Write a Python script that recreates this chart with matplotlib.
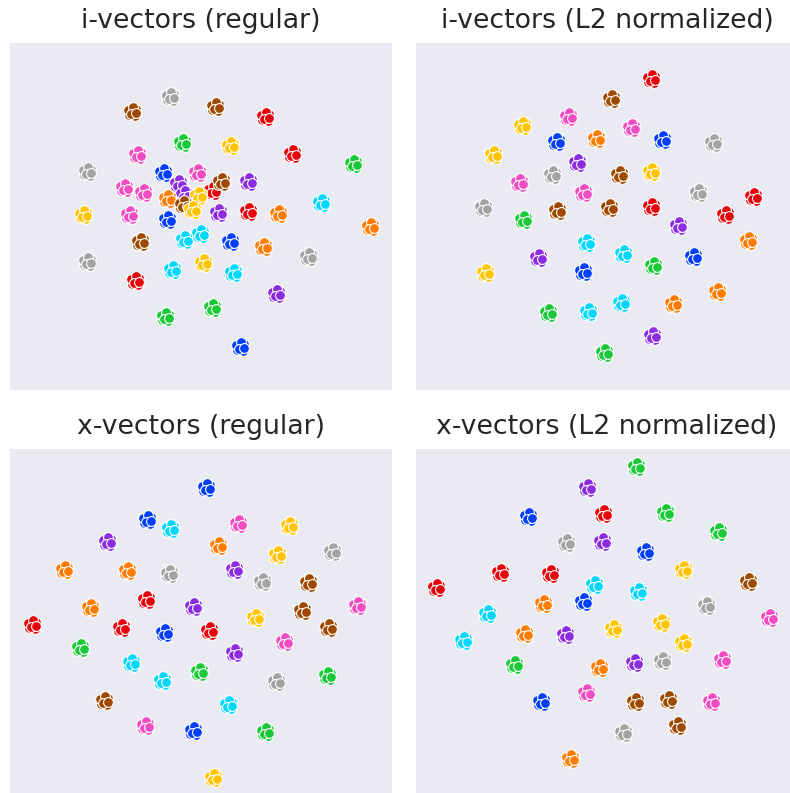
#!/usr/bin/env python3

"""t-SNE views of i-vectors and x-vectors, regular vs L2 normalized"""

import matplotlib
matplotlib.use("Agg")
import matplotlib.pyplot as plt

# seaborn "bright" palette, one colour per speaker
palette = {
    'blue': '#023EFF', 'orange': '#FF7C00', 'green': '#1AC938', 'red': '#E8000B',
    'purple': '#8B2BE2', 'brown': '#9F4800', 'pink': '#F14CC1', 'gray': '#A3A3A3',
    'yellow': '#FFC400', 'cyan': '#00D7FF',
}

titles = ['i-vectors (regular)', 'i-vectors (L2 normalized)',
          'x-vectors (regular)', 'x-vectors (L2 normalized)']

# cluster centres (t-SNE coords) and speaker colour
ivec_reg = [
    (170, 97, 'gray'), (132, 112, 'brown'), (215, 107, 'brown'), (265, 117, 'red'),
    (182, 143, 'green'), (230, 146, 'yellow'), (137, 155, 'pink'), (292, 154, 'red'),
    (353, 164, 'green'), (87, 172, 'gray'), (163, 173, 'blue'), (197, 173, 'pink'),
    (212, 191, 'red'), (221, 182, 'brown'), (248, 182, 'purple'), (178, 184, 'purple'),
    (124, 188, 'pink'), (143, 193, 'pink'), (184, 195, 'purple'), (198, 196, 'yellow'),
    (167, 199, 'orange'), (321, 203, 'cyan'), (183, 205, 'brown'), (192, 210, 'yellow'),
    (218, 213, 'purple'), (248, 212, 'red'), (278, 214, 'orange'), (83, 215, 'yellow'),
    (129, 215, 'pink'), (167, 220, 'blue'), (370, 227, 'orange'), (140, 242, 'brown'),
    (184, 240, 'cyan'), (200, 234, 'cyan'), (230, 242, 'blue'), (263, 247, 'orange'),
    (308, 257, 'gray'), (87, 262, 'gray'), (203, 263, 'yellow'), (172, 270, 'cyan'),
    (233, 273, 'cyan'), (135, 281, 'red'), (276, 294, 'purple'), (165, 317, 'green'),
    (212, 308, 'green'), (240, 347, 'blue'),
]

ivec_l2 = [
    (651, 79, 'red'), (611, 99, 'brown'), (522, 126, 'yellow'), (568, 117, 'pink'),
    (631, 128, 'pink'), (596, 139, 'orange'), (556, 142, 'blue'), (662, 140, 'blue'),
    (713, 143, 'gray'), (493, 155, 'yellow'), (577, 163, 'purple'), (619, 175, 'brown'),
    (651, 172, 'yellow'), (552, 175, 'gray'), (519, 183, 'pink'), (583, 193, 'pink'),
    (698, 193, 'gray'), (753, 197, 'red'), (483, 208, 'gray'), (557, 211, 'brown'),
    (609, 208, 'brown'), (651, 207, 'red'), (725, 215, 'red'), (523, 220, 'green'),
    (678, 226, 'purple'), (748, 241, 'orange'), (586, 243, 'cyan'), (623, 254, 'cyan'),
    (538, 258, 'purple'), (653, 266, 'green'), (693, 257, 'blue'), (583, 272, 'blue'),
    (485, 273, 'yellow'), (717, 292, 'orange'), (673, 304, 'orange'), (621, 303, 'cyan'),
    (548, 313, 'green'), (588, 312, 'cyan'), (652, 336, 'purple'), (604, 353, 'green'),
]

xvec_reg = [
    (206, 488, 'blue'), (147, 520, 'blue'), (170, 529, 'cyan'), (238, 524, 'pink'),
    (289, 526, 'yellow'), (107, 542, 'purple'), (218, 546, 'orange'), (277, 555, 'yellow'),
    (332, 552, 'gray'), (64, 570, 'orange'), (127, 571, 'orange'), (169, 574, 'gray'),
    (234, 570, 'purple'), (262, 582, 'gray'), (308, 583, 'brown'), (146, 600, 'red'),
    (193, 607, 'purple'), (90, 608, 'orange'), (302, 611, 'brown'), (357, 606, 'pink'),
    (255, 618, 'yellow'), (32, 625, 'red'), (121, 628, 'red'), (164, 633, 'blue'),
    (209, 631, 'red'), (328, 628, 'brown'), (284, 642, 'pink'), (80, 648, 'green'),
    (234, 653, 'purple'), (131, 663, 'cyan'), (199, 672, 'green'), (162, 681, 'cyan'),
    (276, 682, 'gray'), (327, 676, 'green'), (104, 701, 'brown'), (228, 705, 'cyan'),
    (145, 726, 'pink'), (193, 731, 'blue'), (265, 732, 'green'), (213, 778, 'yellow'),
]

xvec_l2 = [
    (636, 467, 'green'), (587, 488, 'purple'), (528, 517, 'blue'), (603, 514, 'red'),
    (665, 513, 'green'), (718, 532, 'green'), (566, 543, 'gray'), (602, 542, 'purple'),
    (645, 552, 'blue'), (683, 570, 'yellow'), (500, 573, 'red'), (550, 574, 'red'),
    (748, 582, 'brown'), (436, 588, 'red'), (594, 585, 'cyan'), (638, 592, 'cyan'),
    (543, 604, 'orange'), (583, 602, 'blue'), (706, 606, 'gray'), (487, 614, 'cyan'),
    (769, 618, 'pink'), (613, 629, 'yellow'), (661, 623, 'yellow'), (463, 641, 'cyan'),
    (524, 634, 'orange'), (565, 635, 'purple'), (683, 643, 'yellow'), (514, 665, 'green'),
    (599, 668, 'orange'), (634, 663, 'purple'), (662, 661, 'gray'), (722, 660, 'pink'),
    (541, 702, 'blue'), (586, 693, 'pink'), (635, 702, 'brown'), (668, 700, 'brown'),
    (711, 702, 'pink'), (677, 726, 'brown'), (623, 733, 'gray'), (570, 759, 'orange'),
]

# utterances scatter a little around each speaker centre
spread = [(0, 0), (4, -3), (-3, 3), (3, 4), (-4, -2), (1, -5), (-1, 2), (4, 1)]

panels = [ivec_reg, ivec_l2, xvec_reg, xvec_l2]
extents = [(10, 392, 43, 390), (416, 798, 43, 390),
           (10, 392, 449, 796), (416, 798, 449, 796)]

W, H = 790, 793
fig = plt.figure(figsize=(W / 100, H / 100), dpi=100)

for data, title, (x0, x1, y0, y1) in zip(panels, titles, extents):
    ax = fig.add_axes([x0 / W, 1 - y1 / H, (x1 - x0) / W, (y1 - y0) / H])
    ax.set_facecolor('#EAEAF2')
    for cx, cy, name in data:
        xs = [cx + dx for dx, dy in spread]
        ys = [cy + dy for dx, dy in spread]
        ax.scatter(xs, ys, s=50, color=palette[name], edgecolor='white', linewidth=0.8)
    ax.set_xlim(x0, x1)
    ax.set_ylim(y1, y0)
    ax.set_xticks([])
    ax.set_yticks([])
    for sp in ax.spines.values():
        sp.set_visible(False)
    ax.set_title(title, fontsize=19.3, color='#262626', pad=11)

fig.savefig('out.png', dpi=100)
